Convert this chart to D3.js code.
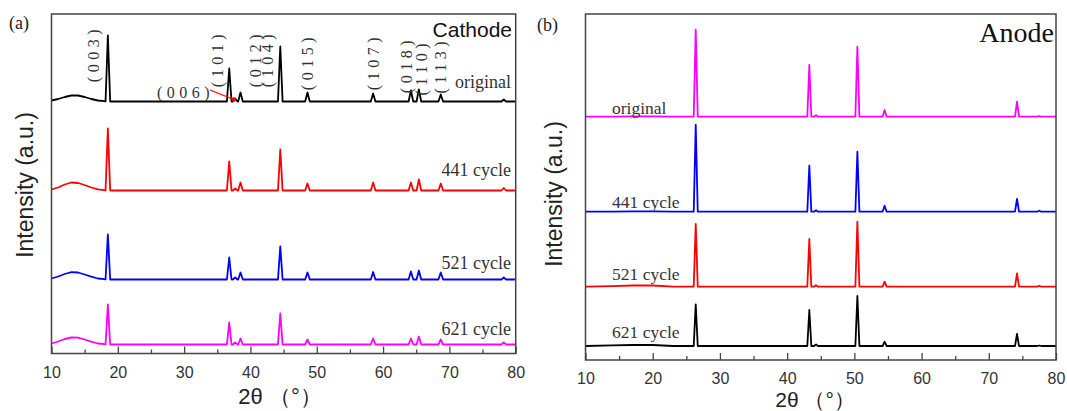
<!DOCTYPE html>
<html><head><meta charset="utf-8">
<script src="https://cdn.jsdelivr.net/npm/d3@7"></script>
<style>body{margin:0;background:#fff}svg{display:block}</style>
</head><body>
<svg id="chart" width="1067" height="411"></svg>
<script>
// ---------------- data ----------------
const xTickValues = [10, 20, 30, 40, 50, 60, 70, 80];
const xMinorValues = [15, 25, 35, 45, 55, 65, 75];

// Panel (a) Cathode
const cathodeNames = ["original", "441 cycle", "521 cycle", "621 cycle"];
const cathodeColors = ["#000000", "#ff0000", "#0000ff", "#ff00ff"];
const cathodeOffsets = [252, 163, 74, 9];
const cathodePeakPos = [18.5, 36.8, 37.7, 38.5, 44.5, 48.6, 58.5, 64.2, 65.4, 68.7, 78.2];
const cathodeOriginal = [66, 33, 3, 9, 55, 9, 8, 11, 12, 7, 2];
const cathode441 = [62, 29, 2, 8, 41, 7, 8, 8, 11, 7, 2.5];
const cathode521 = [45, 22, 2, 7, 33, 7, 7.5, 8, 9, 7, 2];
const cathode621 = [40, 22, 2, 6, 31, 5, 6, 6, 8, 5, 2];
const cathodeHumpX = [10, 11, 12, 13, 14, 15, 16, 17, 18];
const cathodeHumpOriginal = [1, 2.5, 4.5, 6, 6, 4.5, 2.5, 1, 0.3];
const cathodeHump441 = [1, 3, 6, 8, 7.5, 5.5, 3, 1.2, 0.3];
const cathodeHump521 = [1, 3, 5.5, 7.3, 7, 5, 2.8, 1, 0.3];
const cathodeHump621 = [1, 3, 5.5, 7, 6.8, 5, 2.8, 1, 0.3];
const hklLabels = ["(003)", "(101)", "(012)", "(104)", "(015)", "(107)", "(018)", "(110)", "(113)"];
const hklPos = [16.3, 35.1, 40.7, 42.5, 48.6, 58.5, 63.6, 65.8, 68.6];

// Panel (b) Anode
const anodeNames = ["original", "441 cycle", "521 cycle", "621 cycle"];
const anodeColors = ["#ff00ff", "#0000ff", "#ff0000", "#000000"];
const anodeOffsets = [243.3, 148.3, 73.3, 14];
const anodePeakPos = [26.4, 43.3, 44.3, 50.45, 54.5, 74.2, 77.5];
const anodeOriginal = [87, 51.7, 1.5, 70, 6.7, 15, 0.5];
const anode441 = [87, 46, 1.5, 60, 6, 12.7, 1];
const anode521 = [62.7, 47.7, 1.5, 65, 5, 13.4, 1];
const anode621 = [41.7, 36, 1.5, 50, 4.3, 12, 0.5];
const anodeHumpX = [10, 14, 17, 20, 23];
const anodeHumpOriginal = [0, 0, 0.3, 0.3, 0];
const anodeHump441 = [0, 0, 0.3, 0.3, 0];
const anodeHump521 = [0, 0.5, 1.2, 1.2, 0];
const anodeHump621 = [0, 0.6, 1, 1, 0];

// ---------------- drawing ----------------
const svg = d3.select("#chart");
const SERIF = "'Liberation Serif','Times New Roman',serif";
const SANS = "'Liberation Sans',Arial,sans-serif";

function buildPoints(humpX, humpY, peakPos, heights, halfWidth) {
  const pts = humpX.map((x, i) => [x, humpY[i]]);
  peakPos.forEach((p, i) => {
    pts.push([p - halfWidth, 0], [p, heights[i]], [p + halfWidth, 0]);
  });
  pts.push([80, 0]);
  pts.sort((a, b) => a[0] - b[0]);
  return pts;
}

function panel(cfg) {
  const g = svg.append("g");
  const x = d3.scaleLinear().domain([10, 80]).range([cfg.left, cfg.right]);
  const y = d3.scaleLinear().domain(cfg.yDomain).range([cfg.bottom, cfg.top]);

  const line = d3.line().x(d => x(d[0])).y(d => y(d[1]));
  cfg.series.forEach((s, i) => {
    const pts = buildPoints(cfg.humpX, s.hump, cfg.peakPos, s.heights, cfg.halfWidth)
      .map(d => [d[0], d[1] + cfg.offsets[i]]);
    g.append("path").attr("d", line(pts)).attr("fill", "none")
      .attr("stroke", cfg.colors[i]).attr("stroke-width", 1.8)
      .attr("stroke-linejoin", "round");
  });

  g.append("rect").attr("x", cfg.left).attr("y", cfg.top)
    .attr("width", cfg.right - cfg.left).attr("height", cfg.bottom - cfg.top)
    .attr("fill", "none").attr("stroke", "#444").attr("stroke-width", 1.5);

  const ax = g.append("g").attr("transform", `translate(0,${cfg.bottom})`)
    .call(d3.axisBottom(x).tickValues(xTickValues).tickSizeInner(-7).tickSizeOuter(0).tickPadding(13));
  ax.select(".domain").remove();
  ax.selectAll(".tick line").attr("stroke", "#444").attr("stroke-width", 1.3);
  ax.selectAll("text").attr("font-family", SANS).attr("font-size", 16).attr("fill", "#333");
  const mx = g.append("g").attr("transform", `translate(0,${cfg.bottom})`)
    .call(d3.axisBottom(x).tickValues(xMinorValues).tickSizeInner(-4).tickSizeOuter(0).tickFormat(""));
  mx.select(".domain").remove();
  mx.selectAll(".tick line").attr("stroke", "#444").attr("stroke-width", 1.3);

  g.append("text").attr("x", cfg.xTitleX).attr("y", cfg.xTitleY)
    .attr("text-anchor", "middle").attr("font-family", SANS).attr("font-size", cfg.xTitleSize).attr("fill", "#222")
    .text("2θ\u00a0（°）");
  g.append("text").attr("transform", `translate(${cfg.yTitleX},${cfg.yTitleY}) rotate(-90)`)
    .attr("text-anchor", "middle").attr("font-family", SANS).attr("font-size", 23).attr("fill", "#222")
    .text("Intensity (a.u.)");

  g.append("text").attr("x", cfg.letterX).attr("y", cfg.letterY)
    .attr("font-family", SERIF).attr("font-size", 18).attr("fill", "#222").text(cfg.letter);

  return {g, x, y};
}

// Panel (a)
const A = panel({
  left: 51.5, right: 515.7, top: 14, bottom: 353.5, yDomain: [0, 339.5],
  series: [
    {heights: cathodeOriginal, hump: cathodeHumpOriginal},
    {heights: cathode441, hump: cathodeHump441},
    {heights: cathode521, hump: cathodeHump521},
    {heights: cathode621, hump: cathodeHump621}
  ],
  humpX: cathodeHumpX, peakPos: cathodePeakPos, offsets: cathodeOffsets, colors: cathodeColors,
  halfWidth: 0.35,
  xTitleX: 280, xTitleY: 404, xTitleSize: 22, yTitleX: 33, yTitleY: 185,
  letter: "(a)", letterX: 9, letterY: 29
});

const labelDyA = [-14, -15, -11, -10];
cathodeNames.forEach((n, i) => {
  A.g.append("text").attr("x", 511).attr("y", A.y(cathodeOffsets[i]) + labelDyA[i])
    .attr("text-anchor", "end").attr("font-family", SERIF).attr("font-size", 18).attr("fill", "#333").text(n);
});
A.g.append("text").attr("x", 512).attr("y", 37).attr("text-anchor", "end")
  .attr("font-family", SANS).attr("font-size", 21).attr("fill", "#111").text("Cathode");

const hklTopY = [25, 30, 30, 30, 33, 33, 36, 39, 37];
hklLabels.forEach((t, i) => {
  A.g.append("text")
    .attr("transform", `translate(${A.x(hklPos[i])},${hklTopY[i]}) rotate(-90)`)
    .attr("text-anchor", "end").attr("dominant-baseline", "central")
    .attr("font-family", SERIF).attr("font-size", 16).attr("letter-spacing", 4.5)
    .attr("fill", "#333").text(t);
});
A.g.append("text").attr("x", 157).attr("y", 98)
  .attr("font-family", SERIF).attr("font-size", 16).attr("letter-spacing", 4.5)
  .attr("fill", "#333").text("(006)");
A.g.append("line").attr("x1", 210).attr("y1", 90)
  .attr("x2", A.x(37.5)).attr("y2", A.y(cathodeOffsets[0] + 2))
  .attr("stroke", "#ff0000").attr("stroke-width", 1.2);
A.g.append("circle").attr("cx", A.x(37.5)).attr("cy", A.y(cathodeOffsets[0] + 2))
  .attr("r", 2.2).attr("fill", "#ff0000");

// Panel (b)
const B = panel({
  left: 585.5, right: 1056, top: 14, bottom: 360, yDomain: [0, 346],
  series: [
    {heights: anodeOriginal, hump: anodeHumpOriginal},
    {heights: anode441, hump: anodeHump441},
    {heights: anode521, hump: anodeHump521},
    {heights: anode621, hump: anodeHump621}
  ],
  humpX: anodeHumpX, peakPos: anodePeakPos, offsets: anodeOffsets, colors: anodeColors,
  halfWidth: 0.3,
  xTitleX: 815, xTitleY: 407, xTitleSize: 21, yTitleX: 562, yTitleY: 194,
  letter: "(b)", letterX: 537, letterY: 31
});
const labelDyB = [-3, -4, -7, -8];
anodeNames.forEach((n, i) => {
  B.g.append("text").attr("x", 612).attr("y", B.y(anodeOffsets[i]) + labelDyB[i])
    .attr("font-family", SERIF).attr("font-size", 17.5).attr("fill", "#333").text(n);
});
B.g.append("text").attr("x", 1054).attr("y", 42).attr("text-anchor", "end")
  .attr("font-family", SERIF).attr("font-size", 28).attr("fill", "#111").text("Anode");
</script>
</body></html>
